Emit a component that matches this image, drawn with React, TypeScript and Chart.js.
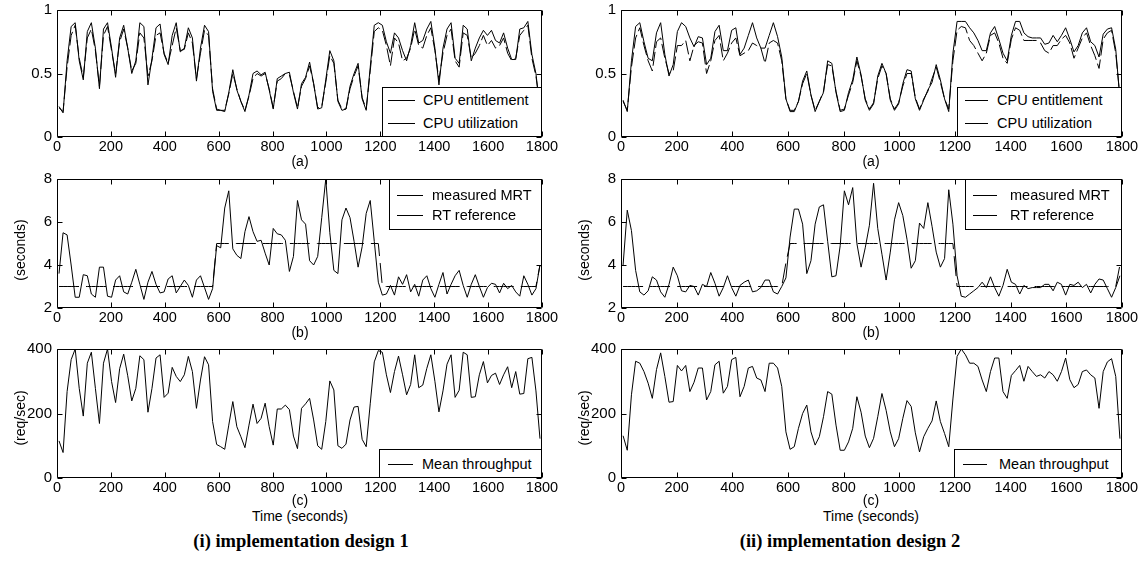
import React, { useEffect, useRef } from "react";
import { Chart, registerables } from "chart.js";
Chart.register(...registerables);

// ---------- sampling grid (seconds) ----------
const SAMPLE_STEP = 15;
const FIRST_SAMPLE = 7.5;
const SAMPLE_COUNT = 120;
const times: number[] = Array.from({ length: SAMPLE_COUNT }, (_, k) => FIRST_SAMPLE + SAMPLE_STEP * k);

// ---------- ticks ----------
const xTicks = [0, 200, 400, 600, 800, 1000, 1200, 1400, 1600, 1800];
const cpuTicks = [0, 0.5, 1];
const rtTicks = [2, 4, 6, 8];
const tpTicks = [0, 200, 400];

// ---------- design 1 ----------
const d1CpuEntitlement = [
  0.24, 0.19, 0.6, 0.87, 0.9, 0.6, 0.45, 0.83, 0.9, 0.7,
  0.38, 0.85, 0.9, 0.7, 0.47, 0.78, 0.88, 0.7, 0.5, 0.6,
  0.9, 0.87, 0.41, 0.62, 0.86, 0.89, 0.65, 0.57, 0.8, 0.9,
  0.67, 0.7, 0.86, 0.78, 0.44, 0.7, 0.88, 0.83, 0.36, 0.21,
  0.21, 0.2, 0.35, 0.53, 0.37, 0.28, 0.2, 0.33, 0.5, 0.52,
  0.49, 0.51, 0.37, 0.22, 0.46, 0.48, 0.5, 0.51, 0.35, 0.22,
  0.42, 0.47, 0.59, 0.42, 0.22, 0.23, 0.45, 0.68, 0.6, 0.28,
  0.21, 0.22, 0.4, 0.5, 0.58, 0.3, 0.21, 0.55, 0.88, 0.9,
  0.88, 0.75, 0.66, 0.82, 0.78, 0.68, 0.6, 0.72, 0.9, 0.74,
  0.76, 0.85, 0.91, 0.7, 0.41, 0.7, 0.85, 0.9, 0.62, 0.58,
  0.88, 0.85, 0.6, 0.7, 0.78, 0.84, 0.8, 0.84, 0.76, 0.74,
  0.82, 0.7, 0.61, 0.61, 0.85, 0.86, 0.91, 0.65, 0.5, 0.22,
];
const d1CpuUtilization = [
  0.23, 0.2, 0.55, 0.8, 0.88, 0.62, 0.47, 0.78, 0.85, 0.68,
  0.4, 0.8, 0.87, 0.68, 0.5, 0.75, 0.85, 0.7, 0.52, 0.58,
  0.82, 0.78, 0.48, 0.6, 0.8, 0.82, 0.66, 0.58, 0.72, 0.86,
  0.68, 0.69, 0.82, 0.74, 0.46, 0.66, 0.84, 0.8, 0.38, 0.22,
  0.21, 0.21, 0.34, 0.5, 0.38, 0.28, 0.21, 0.32, 0.46, 0.5,
  0.48, 0.5, 0.38, 0.23, 0.44, 0.46, 0.5, 0.49, 0.36, 0.23,
  0.4, 0.46, 0.56, 0.42, 0.23, 0.24, 0.43, 0.64, 0.58, 0.29,
  0.22, 0.22, 0.38, 0.48, 0.56, 0.31, 0.22, 0.52, 0.83, 0.86,
  0.84, 0.72, 0.56, 0.78, 0.74, 0.6, 0.62, 0.7, 0.85, 0.72,
  0.7, 0.8, 0.86, 0.68, 0.45, 0.66, 0.8, 0.85, 0.6, 0.55,
  0.82, 0.8, 0.62, 0.66, 0.72, 0.8, 0.72, 0.76, 0.7, 0.72,
  0.78, 0.66, 0.6, 0.62, 0.8, 0.84, 0.88, 0.62, 0.48, 0.24,
];
const d1MeasuredMRT = [
  3.6, 5.5, 5.4, 4.0, 2.5, 2.5, 3.55, 3.5, 2.65, 2.5,
  3.9, 3.9, 2.55, 2.5, 3.3, 3.5, 2.75, 2.65, 3.2, 3.8,
  3.1, 2.4, 3.2, 3.7, 3.1, 2.7, 2.75, 3.35, 3.5, 2.7,
  3.0, 3.3, 3.05, 2.5, 3.3, 3.5, 2.95, 2.4, 2.9, 4.9,
  4.8, 6.65, 7.45, 4.75, 4.45, 4.3, 5.55, 6.25, 5.55, 5.1,
  5.15, 4.55, 4.0, 5.7, 5.45, 5.4, 5.15, 3.7, 4.4, 7.0,
  6.1, 5.9, 4.2, 4.0, 4.4, 6.2, 8.0, 5.5, 3.75, 3.6,
  6.1, 6.65, 6.2, 5.1, 3.9, 4.85, 6.4, 7.0, 5.1, 3.2,
  2.6, 2.65, 3.05, 2.6, 3.45, 3.1, 3.55, 2.75, 3.1, 2.55,
  3.3, 3.5, 2.9, 2.5, 3.1, 3.65, 2.65, 3.1, 3.5, 3.75,
  3.05, 2.5, 3.1, 3.55, 3.0, 2.5, 2.95, 3.15, 3.1, 2.7,
  3.15, 2.9, 3.05, 2.75, 2.55, 3.5, 3.1, 2.6, 2.9, 4.0,
];
const d1RTReference = [
  3, 3, 3, 3, 3, 3, 3, 3, 3, 3,
  3, 3, 3, 3, 3, 3, 3, 3, 3, 3,
  3, 3, 3, 3, 3, 3, 3, 3, 3, 3,
  3, 3, 3, 3, 3, 3, 3, 3, 3, 5,
  5, 5, 5, 5, 5, 5, 5, 5, 5, 5,
  5, 5, 5, 5, 5, 5, 5, 5, 5, 5,
  5, 5, 5, 5, 5, 5, 5, 5, 5, 5,
  5, 5, 5, 5, 5, 5, 5, 5, 5, 5,
  3, 3, 3, 3, 3, 3, 3, 3, 3, 3,
  3, 3, 3, 3, 3, 3, 3, 3, 3, 3,
  3, 3, 3, 3, 3, 3, 3, 3, 3, 3,
  3, 3, 3, 3, 3, 3, 3, 3, 3, 4,
];
const d1Throughput = [
  115, 79, 268, 367, 400, 278, 192, 356, 390, 278,
  169, 356, 400, 299, 234, 339, 384, 317, 239, 278,
  379, 367, 204, 278, 372, 382, 250, 263, 343, 315,
  299, 320, 377, 330, 216, 304, 376, 351, 175, 104,
  97, 89, 164, 237, 159, 128, 94, 164, 229, 169,
  185, 232, 159, 102, 214, 214, 226, 212, 130, 91,
  216, 230, 247, 180, 100, 89, 175, 301, 273, 100,
  92, 105, 180, 220, 222, 120, 97, 230, 360, 395,
  390, 320, 265, 330, 378, 320, 258, 290, 382, 280,
  288, 340, 382, 300, 205, 270, 353, 382, 250, 272,
  390, 382, 250, 252, 320, 361, 295, 318, 325, 290,
  320, 345, 280, 330, 260, 262, 370, 374, 270, 122,
];

// ---------- design 2 ----------
const d2CpuEntitlement = [
  0.29, 0.2, 0.6, 0.87, 0.9, 0.75, 0.62, 0.6, 0.82, 0.9,
  0.65, 0.48, 0.57, 0.83, 0.9, 0.87, 0.78, 0.71, 0.79, 0.78,
  0.57, 0.62, 0.83, 0.88, 0.68, 0.68, 0.84, 0.86, 0.65, 0.7,
  0.8, 0.9, 0.78, 0.7, 0.7, 0.8, 0.9, 0.79, 0.63, 0.3,
  0.2, 0.2, 0.28, 0.44, 0.52, 0.33, 0.2, 0.28, 0.35, 0.6,
  0.58, 0.35, 0.2, 0.21, 0.35, 0.45, 0.63, 0.49, 0.29, 0.21,
  0.26, 0.48, 0.58, 0.5, 0.29, 0.21, 0.26, 0.42, 0.53, 0.52,
  0.3, 0.21, 0.29, 0.37, 0.43, 0.57, 0.45, 0.3, 0.2, 0.66,
  0.91, 0.91, 0.91, 0.86, 0.82, 0.76, 0.68, 0.68, 0.82, 0.87,
  0.77, 0.66, 0.6, 0.8, 0.91, 0.91, 0.82, 0.79, 0.78, 0.78,
  0.78, 0.73, 0.74, 0.8, 0.75, 0.8, 0.86, 0.77, 0.67, 0.72,
  0.82, 0.86, 0.75, 0.72, 0.63, 0.81, 0.85, 0.86, 0.69, 0.3,
];
const d2CpuUtilization = [
  0.28, 0.21, 0.55, 0.78, 0.86, 0.72, 0.6, 0.52, 0.75, 0.78,
  0.62, 0.5, 0.52, 0.72, 0.72, 0.76, 0.6, 0.72, 0.75, 0.74,
  0.5, 0.6, 0.76, 0.8, 0.6, 0.66, 0.74, 0.78, 0.64, 0.66,
  0.68, 0.74, 0.72, 0.7, 0.58, 0.74, 0.76, 0.74, 0.6, 0.3,
  0.21, 0.21, 0.28, 0.42, 0.5, 0.33, 0.21, 0.28, 0.36, 0.57,
  0.56, 0.36, 0.21, 0.22, 0.33, 0.43, 0.6, 0.48, 0.3, 0.22,
  0.27, 0.46, 0.56, 0.5, 0.3, 0.22, 0.27, 0.4, 0.5, 0.5,
  0.31, 0.22, 0.3, 0.36, 0.46, 0.55, 0.43, 0.3, 0.22, 0.6,
  0.84, 0.87, 0.86, 0.76, 0.72, 0.66, 0.6, 0.66, 0.8, 0.82,
  0.74, 0.62, 0.58, 0.77, 0.86, 0.84, 0.76, 0.76, 0.76, 0.76,
  0.74, 0.68, 0.66, 0.72, 0.72, 0.77, 0.8, 0.74, 0.62, 0.7,
  0.78, 0.82, 0.72, 0.64, 0.54, 0.77, 0.82, 0.84, 0.66, 0.32,
];
const d2MeasuredMRT = [
  4.0, 6.55, 5.6, 3.75, 2.75, 2.6, 2.8, 3.45, 3.3, 2.75,
  2.5, 3.1, 3.9, 3.5, 2.8, 2.75, 3.05, 3.0, 2.6, 3.1,
  3.0, 3.65, 3.15, 2.55, 2.95, 3.5, 2.95, 2.55, 3.05, 3.2,
  3.3, 2.75, 2.8, 2.95, 3.3, 3.3, 2.75, 2.65, 3.0, 3.4,
  5.3, 6.6, 6.6, 5.9, 3.6, 4.2, 5.9, 6.7, 6.8, 5.1,
  3.45, 3.5, 4.9, 7.45, 6.8, 7.6, 5.0, 3.9, 4.8, 5.85,
  7.8, 5.7, 4.5, 3.3, 4.6, 6.1, 6.9, 6.3, 5.2, 3.85,
  4.2, 5.95, 5.7, 6.9, 5.8, 4.6, 3.9, 4.3, 7.5, 5.9,
  3.5, 2.55, 2.5, 2.65, 2.8, 2.95, 3.2, 2.95, 3.45, 2.95,
  2.55, 3.05, 3.8, 3.2, 3.1, 2.65, 3.05, 2.9, 2.95, 2.95,
  2.95, 3.1, 3.1, 2.8, 3.2, 3.1, 2.6, 3.1, 3.05, 3.2,
  2.95, 3.1, 2.7, 3.1, 3.35, 3.3, 2.9, 2.5, 2.95, 3.5,
];
const d2RTReference = [
  3, 3, 3, 3, 3, 3, 3, 3, 3, 3,
  3, 3, 3, 3, 3, 3, 3, 3, 3, 3,
  3, 3, 3, 3, 3, 3, 3, 3, 3, 3,
  3, 3, 3, 3, 3, 3, 3, 3, 3, 4.1,
  5, 5, 5, 5, 5, 5, 5, 5, 5, 5,
  5, 5, 5, 5, 5, 5, 5, 5, 5, 5,
  5, 5, 5, 5, 5, 5, 5, 5, 5, 5,
  5, 5, 5, 5, 5, 5, 5, 5, 5, 5,
  3, 3, 3, 3, 3, 3, 3, 3, 3, 3,
  3, 3, 3, 3, 3, 3, 3, 3, 3, 3,
  3, 3, 3, 3, 3, 3, 3, 3, 3, 3,
  3, 3, 3, 3, 3, 3, 3, 3, 3, 4,
];
const d2Throughput = [
  131, 86, 258, 362, 356, 330, 294, 247, 336, 388,
  315, 235, 237, 349, 332, 349, 268, 297, 341, 341,
  242, 268, 351, 362, 263, 284, 367, 374, 252, 284,
  341, 346, 310, 304, 268, 356, 356, 341, 284, 143,
  89, 97, 154, 200, 226, 143, 102, 128, 190, 268,
  260, 164, 86, 86, 112, 154, 252, 204, 130, 94,
  123, 190, 262, 210, 143, 97, 122, 185, 240, 222,
  140, 81, 128, 154, 177, 239, 175, 138, 97, 245,
  377, 400, 382, 356, 356, 346, 304, 268, 330, 372,
  372, 268, 247, 318, 333, 349, 300, 346, 330, 315,
  320, 310, 330, 320, 300, 330, 372, 305, 280, 290,
  330, 335, 320, 310, 216, 330, 360, 370, 315, 122,
];

// ---------- layout ----------
const SANS = '"Liberation Sans", Arial, Helvetica, sans-serif';
const SERIF = '"Liberation Serif", "Times New Roman", serif';
const PAD = { left: 52, right: 34, top: 6, bottom: 24 };

type Series = { label: string; values: number[]; dash?: number[] };
type PanelSpec = {
  key: string;
  left: number; top: number; width: number; height: number;
  yMin: number; yMax: number; yTicks: number[];
  series: Series[];
};

const fmt = (v: number) => String(v);

const framePlugin = {
  id: "matlabFrame",
  afterDraw(chart: any, _args: any, opts: any) {
    const { ctx, chartArea: a, scales } = chart;
    const xs = scales.x, ys = scales.y;
    const L = Math.round(a.left) + 0.5, R = Math.round(a.right) - 0.5;
    const T = Math.round(a.top) + 0.5, B = Math.round(a.bottom) - 0.5;
    const TL = 5;
    ctx.save();
    ctx.strokeStyle = "#000";
    ctx.lineWidth = 1;
    ctx.setLineDash([]);
    ctx.beginPath();
    ctx.rect(L, T, R - L, B - T);
    (opts.xTicks as number[]).forEach((v) => {
      const p = Math.round(xs.getPixelForValue(v)) + 0.5;
      ctx.moveTo(p, B); ctx.lineTo(p, B - TL);
      ctx.moveTo(p, T); ctx.lineTo(p, T + TL);
    });
    (opts.yTicks as number[]).forEach((v) => {
      const p = Math.round(ys.getPixelForValue(v)) + 0.5;
      ctx.moveTo(L, p); ctx.lineTo(L + TL, p);
      ctx.moveTo(R, p); ctx.lineTo(R - TL, p);
    });
    ctx.stroke();
    ctx.fillStyle = "#000";
    ctx.font = `14.5px ${SANS}`;
    ctx.textAlign = "center";
    ctx.textBaseline = "middle";
    (opts.xTicks as number[]).forEach((v) => {
      ctx.fillText(fmt(v), xs.getPixelForValue(v), a.bottom + 10);
    });
    ctx.font = `15px ${SANS}`;
    ctx.textAlign = "right";
    (opts.yTicks as number[]).forEach((v) => {
      ctx.fillText(fmt(v), a.left - 5, ys.getPixelForValue(v));
    });
    ctx.restore();
  },
};

function Panel({ spec }: { spec: PanelSpec }) {
  const ref = useRef<HTMLCanvasElement>(null);
  const cw = spec.width + PAD.left + PAD.right;
  const ch = spec.height + PAD.top + PAD.bottom;
  useEffect(() => {
    if (!ref.current) return;
    const chart = new Chart(ref.current, {
      type: "line",
      data: {
        datasets: spec.series.map((s) => ({
          label: s.label,
          data: times.map((t, i) => ({ x: t, y: s.values[i] })),
          borderColor: "#000",
          backgroundColor: "#000",
          borderWidth: 1,
          borderDash: s.dash || [],
          pointRadius: 0,
          fill: false,
          tension: 0,
        })),
      },
      options: {
        responsive: false,
        maintainAspectRatio: false,
        animation: false,
        events: [],
        layout: { padding: PAD },
        plugins: {
          legend: { display: false },
          tooltip: { enabled: false },
          matlabFrame: { xTicks, yTicks: spec.yTicks },
        } as any,
        scales: {
          x: { type: "linear", display: false, min: 0, max: 1800 },
          y: { type: "linear", display: false, min: spec.yMin, max: spec.yMax },
        },
      },
      plugins: [framePlugin],
    });
    return () => chart.destroy();
  }, []);
  return (
    <canvas
      ref={ref}
      width={cw}
      height={ch}
      style={{ position: "absolute", left: spec.left - PAD.left, top: spec.top - PAD.top, width: cw, height: ch }}
    />
  );
}

const LEFT_X = 57, LEFT_W = 485, RIGHT_X = 621, RIGHT_W = 501;
const ROW_TOP = [10, 179, 349];
const ROW_H = [127, 129, 129];

const panels: PanelSpec[] = [
  { key: "d1a", left: LEFT_X, top: ROW_TOP[0], width: LEFT_W, height: ROW_H[0], yMin: 0, yMax: 1, yTicks: cpuTicks,
    series: [{ label: "CPU entitlement", values: d1CpuEntitlement }, { label: "CPU utilization", values: d1CpuUtilization, dash: [14, 4] }] },
  { key: "d1b", left: LEFT_X, top: ROW_TOP[1], width: LEFT_W, height: ROW_H[1], yMin: 2, yMax: 8, yTicks: rtTicks,
    series: [{ label: "measured MRT", values: d1MeasuredMRT }, { label: "RT reference", values: d1RTReference, dash: [20, 7] }] },
  { key: "d1c", left: LEFT_X, top: ROW_TOP[2], width: LEFT_W, height: ROW_H[2], yMin: 0, yMax: 400, yTicks: tpTicks,
    series: [{ label: "Mean throughput", values: d1Throughput }] },
  { key: "d2a", left: RIGHT_X, top: ROW_TOP[0], width: RIGHT_W, height: ROW_H[0], yMin: 0, yMax: 1, yTicks: cpuTicks,
    series: [{ label: "CPU entitlement", values: d2CpuEntitlement }, { label: "CPU utilization", values: d2CpuUtilization, dash: [14, 4] }] },
  { key: "d2b", left: RIGHT_X, top: ROW_TOP[1], width: RIGHT_W, height: ROW_H[1], yMin: 2, yMax: 8, yTicks: rtTicks,
    series: [{ label: "measured MRT", values: d2MeasuredMRT }, { label: "RT reference", values: d2RTReference, dash: [20, 7] }] },
  { key: "d2c", left: RIGHT_X, top: ROW_TOP[2], width: RIGHT_W, height: ROW_H[2], yMin: 0, yMax: 400, yTicks: tpTicks,
    series: [{ label: "Mean throughput", values: d2Throughput }] },
];

type LegendSpec = { left: number; top: number; right: number; bottom: number; lineX: number; lineW: number; textX: number; rows: { text: string; y: number }[] };
const legends: LegendSpec[] = [
  { left: 382, top: 87, right: 542, bottom: 137, lineX: 388, lineW: 27, textX: 423, rows: [{ text: "CPU entitlement", y: 100 }, { text: "CPU utilization", y: 123 }] },
  { left: 389, top: 179, right: 542, bottom: 230, lineX: 397, lineW: 26, textX: 432, rows: [{ text: "measured MRT", y: 195 }, { text: "RT reference", y: 215 }] },
  { left: 379, top: 449, right: 542, bottom: 478, lineX: 388, lineW: 25, textX: 422, rows: [{ text: "Mean throughput", y: 464 }] },
  { left: 957, top: 87, right: 1122, bottom: 137, lineX: 965, lineW: 23, textX: 997, rows: [{ text: "CPU entitlement", y: 100 }, { text: "CPU utilization", y: 123 }] },
  { left: 965, top: 179, right: 1122, bottom: 230, lineX: 973, lineW: 24, textX: 1010, rows: [{ text: "measured MRT", y: 195 }, { text: "RT reference", y: 215 }] },
  { left: 954, top: 449, right: 1122, bottom: 478, lineX: 963, lineW: 24, textX: 999, rows: [{ text: "Mean throughput", y: 464 }] },
];

type Label = { text: string; x: number; y: number; rotate?: boolean; size?: number; bold?: boolean; serif?: boolean };
const labels: Label[] = [
  { text: "(a)", x: 300, y: 161 },
  { text: "(b)", x: 300, y: 332 },
  { text: "(c)", x: 300, y: 500 },
  { text: "Time (seconds)", x: 300, y: 516 },
  { text: "(a)", x: 871, y: 161 },
  { text: "(b)", x: 871, y: 332 },
  { text: "(c)", x: 871, y: 500 },
  { text: "Time (seconds)", x: 871, y: 516 },
  { text: "(seconds)", x: 20, y: 250, rotate: true },
  { text: "(req/sec)", x: 20, y: 418, rotate: true },
  { text: "(seconds)", x: 584, y: 250, rotate: true },
  { text: "(req/sec)", x: 584, y: 418, rotate: true },
  { text: "(i) implementation design 1", x: 301, y: 541, size: 18.5, bold: true, serif: true },
  { text: "(ii) implementation design 2", x: 850, y: 541, size: 18.5, bold: true, serif: true },
];

export default function App() {
  return (
    <div style={{ position: "absolute", left: 0, top: 0, width: 1144, height: 575, background: "#fff", overflow: "hidden" }}>
      {panels.map((p) => <Panel key={p.key} spec={p} />)}
      {legends.map((l, i) => (
        <div key={"lg" + i}>
          <div style={{ position: "absolute", left: l.left, top: l.top, width: l.right - l.left, height: l.bottom - l.top, boxSizing: "border-box", border: "1px solid #000", background: "#fff" }} />
          {l.rows.map((r, j) => (
            <React.Fragment key={j}>
              <div style={{ position: "absolute", left: l.lineX, top: r.y, width: l.lineW, height: 0, borderTop: "1px solid #000" }} />
              <div style={{ position: "absolute", left: l.textX, top: r.y, transform: "translateY(-50%)", font: `14.5px ${SANS}`, color: "#000", whiteSpace: "nowrap", lineHeight: "16px" }}>{r.text}</div>
            </React.Fragment>
          ))}
        </div>
      ))}
      {labels.map((t, i) => (
        <div
          key={"lb" + i}
          style={{
            position: "absolute", left: t.x, top: t.y,
            transform: `translate(-50%, -50%)${t.rotate ? " rotate(-90deg)" : ""}`,
            font: `${t.bold ? "bold " : ""}${t.size || 14}px ${t.serif ? SERIF : SANS}`,
            color: "#000", whiteSpace: "nowrap", lineHeight: `${Math.round((t.size || 14) * 1.15)}px`,
          }}
        >
          {t.text}
        </div>
      ))}
    </div>
  );
}
